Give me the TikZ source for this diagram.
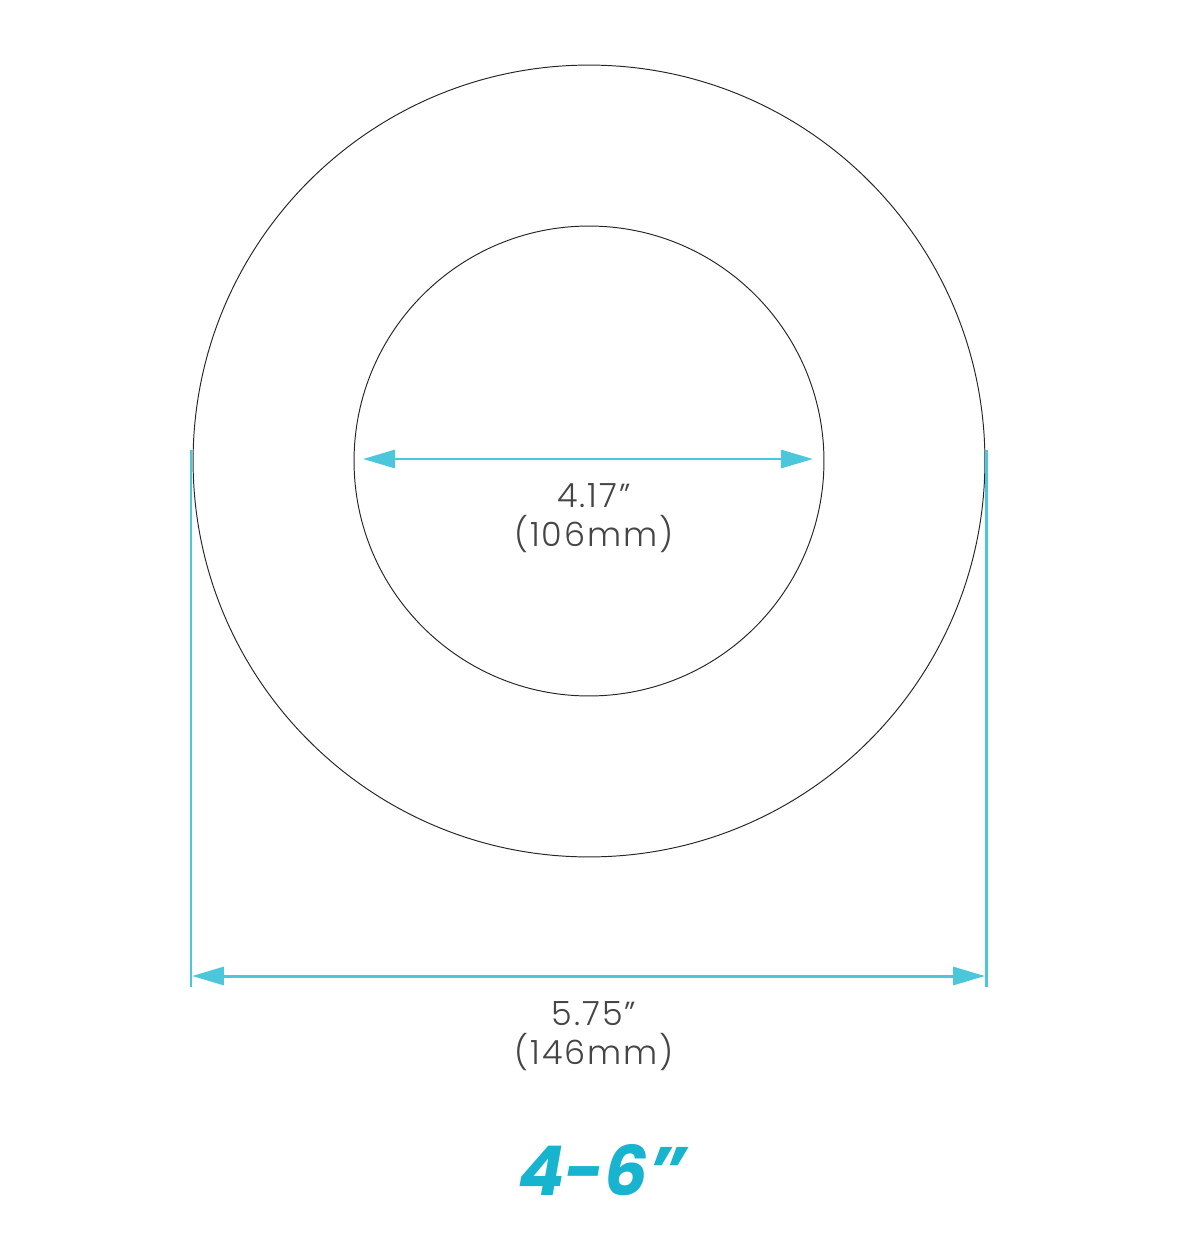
\documentclass[tikz,border=0pt]{standalone}
\usepackage{fontspec}
\setmainfont{Poppins}
\newfontfamily\dimfont{Poppins}[UprightFont=* Light, LetterSpace=6]
\usetikzlibrary{arrows.meta}
\definecolor{dimcyan}{HTML}{4CC6DA}
\definecolor{titlecyan}{HTML}{17B3CF}
\definecolor{labelgray}{HTML}{454545}
\tikzset{
	ring/.style={draw=black!85, circle, line width=0.55pt, inner sep=0pt},
	dimline/.style={draw=dimcyan, line width=1.7pt},
	dimarrow/.style={dimline, {Triangle[length=0.64cm,width=0.36cm]}-{Triangle[length=0.64cm,width=0.36cm]}},
	dimlabel/.style={text=labelgray, align=center, font=\dimfont\fontsize{19}{22}\selectfont}
}
\begin{document}
\begin{tikzpicture}[x=0.02cm,y=-0.02cm]
		\useasboundingbox (0,0) rectangle (1200,1233);
		\node[ring, minimum size=15.84cm] (outer) at (589,461) { };
		\node[ring, minimum size=9.40cm] (inner) at (589,461) { };
		% inner diameter
		\coordinate (innerleft) at (363,459);
		\coordinate (innerright) at (813,459);
		\draw[dimarrow] (innerleft) -- (innerright);
		\node[dimlabel] (innerlabel) at (594,518) {4.17”\\(106mm)};
		% outer diameter
		\coordinate (extlefttop) at (191,450);
		\coordinate (extleftbot) at (191,987);
		\coordinate (extrighttop) at (986,450);
		\coordinate (extrightbot) at (986,987);
		\draw[dimline] (extlefttop) -- (extleftbot);
		\draw[dimline] (extrighttop) -- (extrightbot);
		\coordinate (outerleft) at (192,976);
		\coordinate (outerright) at (985,976);
		\draw[dimarrow] (outerleft) -- (outerright);
		\node[dimlabel] (outerlabel) at (594,1036) {5.75”\\(146mm)};
		% size range
		\node[text=titlecyan, font=\fontsize{39}{44}\bfseries\itshape\selectfont] (range) at (602,1170) {4-6”};
\end{tikzpicture}
\end{document}
